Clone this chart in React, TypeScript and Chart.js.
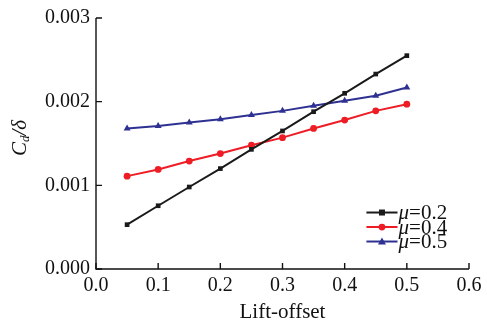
import React, { useEffect, useRef } from "react";
import { Chart, registerables } from "chart.js";

Chart.register(...registerables);

const offsets = [0.05, 0.1, 0.15, 0.2, 0.25, 0.3, 0.35, 0.4, 0.45, 0.5];
const mu02 = [0.00053, 0.000756, 0.00098, 0.0012, 0.00143, 0.00165, 0.00188, 0.0021, 0.00233, 0.00255];
const mu04 = [0.00111, 0.00119, 0.00129, 0.00138, 0.00148, 0.00157, 0.00168, 0.00178, 0.00189, 0.00197];
const mu05 = [0.00168, 0.00171, 0.00175, 0.00179, 0.00184, 0.00189, 0.00195, 0.00201, 0.00207, 0.00217];
const seriesLabels = ["0.2", "0.4", "0.5"];
const xTicks = [0, 0.1, 0.2, 0.3, 0.4, 0.5, 0.6];
const yTicks = [0, 0.001, 0.002, 0.003];

const colors = ["#1a1a1a", "#ee1c25", "#2e3192"];
const pointStyles = ["rect", "circle", "triangle"];
const pointRadii = [3.3, 3.4, 4];
const FONT = "'Liberation Serif', 'Times New Roman', serif";

export default function App() {
  const ref = useRef<HTMLCanvasElement>(null);
  useEffect(() => {
    const canvas = ref.current!;
    const seriesVals = [mu02, mu04, mu05];
    const axisPlugin = {
      id: "axisDecor",
      afterDraw(chart: any) {
        const ctx = chart.ctx;
        const { left, right, top, bottom } = chart.chartArea;
        const xs = chart.scales.x;
        const ys = chart.scales.y;
        ctx.save();
        ctx.strokeStyle = "#111";
        ctx.lineWidth = 1.4;
        ctx.beginPath();
        ctx.moveTo(left, top);
        ctx.lineTo(left, bottom);
        ctx.lineTo(right, bottom);
        ctx.stroke();
        ctx.beginPath();
        xTicks.forEach((v) => {
          const px = xs.getPixelForValue(v);
          ctx.moveTo(px, bottom);
          ctx.lineTo(px, bottom - 6);
        });
        yTicks.forEach((v) => {
          const py = ys.getPixelForValue(v);
          ctx.moveTo(left, py);
          ctx.lineTo(left + 6, py);
        });
        ctx.stroke();

        // y title
        ctx.save();
        ctx.translate(20, 138);
        ctx.rotate(-Math.PI / 2);
        ctx.fillStyle = "#111";
        ctx.textBaseline = "middle";
        ctx.font = `italic 21px ${FONT}`;
        const wC = ctx.measureText("C").width;
        ctx.font = `italic 13px ${FONT}`;
        const wd = ctx.measureText("d").width;
        ctx.font = `italic 21px ${FONT}`;
        const wRest = ctx.measureText("/δ").width;
        let x0 = -(wC + wd + wRest) / 2;
        ctx.fillText("C", x0, 0);
        x0 += wC;
        ctx.font = `italic 13px ${FONT}`;
        ctx.fillText("d", x0, 6);
        x0 += wd;
        ctx.font = `italic 21px ${FONT}`;
        ctx.fillText("/δ", x0, 0);
        ctx.restore();

        // legend
        const lx0 = xs.getPixelForValue(0.435);
        const lx1 = xs.getPixelForValue(0.485);
        const ly0 = ys.getPixelForValue(0.000675);
        seriesLabels.forEach((lab, i) => {
          const y = ly0 + i * 14.5;
          ctx.strokeStyle = colors[i];
          ctx.fillStyle = colors[i];
          ctx.lineWidth = 2;
          ctx.beginPath();
          ctx.moveTo(lx0, y);
          ctx.lineTo(lx1, y);
          ctx.stroke();
          const mx = (lx0 + lx1) / 2;
          ctx.beginPath();
          if (i === 0) ctx.rect(mx - 3, y - 3, 6, 6);
          else if (i === 1) ctx.arc(mx, y, 3.4, 0, Math.PI * 2);
          else {
            ctx.moveTo(mx, y - 4);
            ctx.lineTo(mx + 4, y + 3);
            ctx.lineTo(mx - 4, y + 3);
            ctx.closePath();
          }
          ctx.fill();
          ctx.fillStyle = "#111";
          ctx.textBaseline = "middle";
          ctx.font = `italic 21px ${FONT}`;
          const tx = lx1 + 1;
          ctx.fillText("μ", tx, y + 1);
          const wm = ctx.measureText("μ").width;
          ctx.font = `21px ${FONT}`;
          ctx.fillText("=" + lab, tx + wm, y + 1);
        });
        ctx.restore();
      },
    };

    const chart = new Chart(canvas, {
      type: "line",
      data: {
        datasets: seriesVals.map((vals, i) => ({
          label: "μ=" + seriesLabels[i],
          data: offsets.map((x, j) => ({ x, y: vals[j] })),
          borderColor: colors[i],
          backgroundColor: colors[i],
          borderWidth: 2,
          pointStyle: pointStyles[i] as any,
          pointRadius: pointRadii[i],
          pointBorderWidth: 0,
          tension: 0,
        })),
      },
      options: {
        animation: false,
        responsive: false,
        layout: { padding: { top: 16, right: 18, left: 0, bottom: 0 } },
        plugins: { legend: { display: false }, tooltip: { enabled: false } },
        scales: {
          x: {
            type: "linear",
            min: 0,
            max: 0.6,
            afterBuildTicks: (s: any) => {
              s.ticks = xTicks.map((v) => ({ value: v }));
            },
            afterFit: (s: any) => {
              s.height = 56;
            },
            grid: { display: false, drawTicks: false },
            border: { display: false },
            ticks: {
              color: "#111",
              font: { family: FONT, size: 20 },
              padding: 5,
              maxRotation: 0,
              callback: (v: any) => Number(v).toFixed(1),
            },
            title: {
              display: true,
              text: "Lift-offset",
              color: "#111",
              font: { family: FONT, size: 21 },
              padding: { top: 0, bottom: 0 },
            },
          },
          y: {
            type: "linear",
            min: 0,
            max: 0.003,
            afterBuildTicks: (s: any) => {
              s.ticks = yTicks.map((v) => ({ value: v }));
            },
            afterFit: (s: any) => {
              s.width = 96;
            },
            grid: { display: false, drawTicks: false },
            border: { display: false },
            ticks: {
              color: "#111",
              font: { family: FONT, size: 20 },
              padding: 6,
              callback: (v: any) => Number(v).toFixed(3),
            },
          },
        },
      },
      plugins: [axisPlugin],
    });
    return () => chart.destroy();
  }, []);
  return (
    <div style={{ position: "absolute", left: 0, top: 0, width: 487, height: 325, background: "#fff" }}>
      <canvas ref={ref} width={487} height={325} style={{ width: 487, height: 325 }} />
    </div>
  );
}
